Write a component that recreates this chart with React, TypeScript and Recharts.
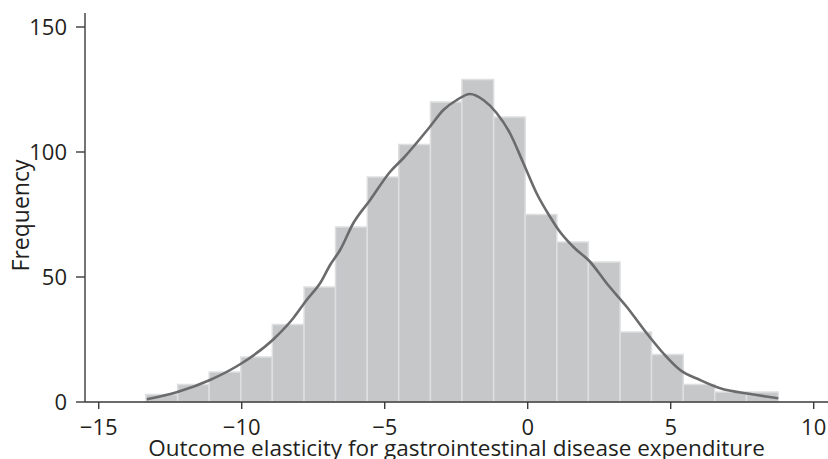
import React from 'react';
import { ComposedChart, Line, XAxis, YAxis, ReferenceArea } from 'recharts';

// histogram bins (edges) and their counts
const binEdges = [
  -13.35, -12.24, -11.14, -10.03, -8.93, -7.82, -6.72, -5.61, -4.51, -3.4, -2.3,
  -1.19, -0.09, 1.02, 2.12, 3.23, 4.33, 5.44, 6.54, 7.65, 8.76,
];
const binCounts = [3, 7, 12, 18, 31, 46, 70, 90, 103, 120, 129, 114, 75, 64, 56, 28, 19, 7, 4, 4];

// kernel density curve, scaled to frequency
const kdeX = [
  -13.32, -12.22, -11.11, -10.0, -8.9, -8.2, -7.73, -7.26, -6.91, -6.56, -6.1, -5.51,
  -4.81, -4.35, -3.42, -2.95, -2.48, -2.02, -1.55, -1.08, -0.62, -0.15, 0.31, 0.78,
  1.08, 1.59, 2.18, 2.76, 3.46, 4.16, 4.74, 5.33, 6.03, 6.73, 7.79, 8.76,
];
const kdeY = [
  1.1, 4.1, 8.8, 15.5, 25, 33.5, 40.8, 47.5, 54.8, 60.8, 71.5, 80.8,
  92.1, 97.5, 110.1, 116.8, 120.8, 123.2, 120.8, 115.5, 107.5, 95.5, 83.5, 74.1,
  68.8, 62.1, 56.1, 47.5, 38.1, 27.5, 19.5, 12.8, 8.8, 5.5, 3.2, 1.5,
];

const xTicks = [-15, -10, -5, 0, 5, 10];
const yTicks = [0, 50, 100, 150];

const kdeData = kdeX.map((x, i) => ({ x, y: kdeY[i] }));

const FONT = '"Open Sans", sans-serif';
const INK = '#231f20';
const AXIS = '#3a3a3a';
const fmt = (v: number) => (v < 0 ? `\u2212${Math.abs(v)}` : `${v}`);

// axis titles drawn from the axis viewBox so the baseline sits where the original has it
const XTitle = ({ viewBox }: any) => (
  <text
    x={viewBox.x + viewBox.width / 2}
    y={viewBox.y + viewBox.height - 3}
    textAnchor="middle"
    fill={INK}
    fontSize={22.5}
    fontFamily={FONT}
  >
    Outcome elasticity for gastrointestinal disease expenditure
  </text>
);

const YTitle = ({ viewBox }: any) => {
  const cx = viewBox.x + 4;
  const cy = viewBox.y + viewBox.height / 2 + 8;
  return (
    <text
      x={cx}
      y={cy}
      transform={`rotate(-90, ${cx}, ${cy})`}
      textAnchor="middle"
      fill={INK}
      fontSize={23}
      fontFamily={FONT}
    >
      Frequency
    </text>
  );
};

export default function App() {
  return (
    <div style={{ position: 'absolute', left: 0, top: 0, width: 828, height: 459, background: '#fff' }}>
      <ComposedChart
        width={828}
        height={459}
        data={kdeData}
        margin={{ top: 13, right: 0, bottom: 0, left: 25 }}
        style={{ fontFamily: FONT }}
      >
        <XAxis
          dataKey="x"
          type="number"
          domain={[-15.48, 10.5]}
          ticks={xTicks}
          tickFormatter={fmt}
          height={57}
          tickSize={7}
          tickMargin={10}
          axisLine={{ stroke: AXIS, strokeWidth: 1.4 }}
          tickLine={{ stroke: AXIS, strokeWidth: 1.4 }}
          tick={{ fill: INK, fontSize: 22, fontFamily: FONT }}
          allowDataOverflow
          label={XTitle}
        />
        <YAxis
          type="number"
          domain={[0, 155.6]}
          ticks={yTicks}
          width={60}
          tickSize={9}
          tickMargin={9}
          axisLine={{ stroke: AXIS, strokeWidth: 1.4 }}
          tickLine={{ stroke: AXIS, strokeWidth: 1.4 }}
          tick={{ fill: INK, fontSize: 22, fontFamily: FONT }}
          allowDataOverflow
          label={YTitle}
        />
        {binCounts.map((c, i) => (
          <ReferenceArea
            key={`bin-${i}`}
            x1={binEdges[i]}
            x2={binEdges[i + 1]}
            y1={0}
            y2={c}
            fill="#c6c7c9"
            fillOpacity={1}
            stroke="#dedfe0"
            strokeWidth={1.5}
            ifOverflow="visible"
          />
        ))}
        <Line
          dataKey="y"
          type="monotone"
          stroke="#6b6b6d"
          strokeWidth={2.6}
          dot={false}
          activeDot={false}
          isAnimationActive={false}
        />
      </ComposedChart>
    </div>
  );
}
